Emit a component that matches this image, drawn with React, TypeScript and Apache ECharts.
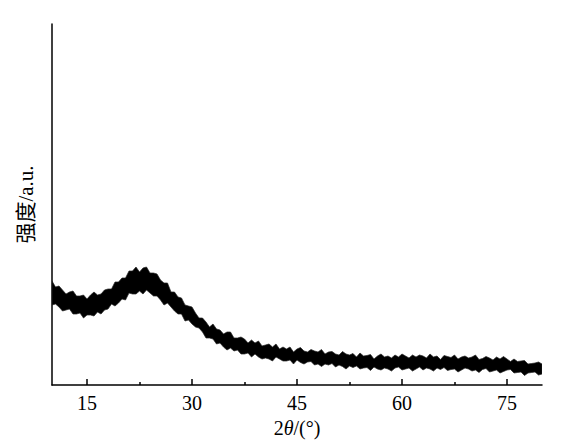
import React, { useEffect, useRef } from "react";
import * as echarts from "echarts";

// Sampling grid of the diffraction angle (2θ, degrees)
const ANGLE_START = 10;
const ANGLE_STEP = 0.5;

// Upper edge of the noisy intensity band (a.u.)
const upperEdge = [
  104, 98, 99, 95, 91, 93, 94, 89, 89, 90,
  86, 90, 93, 90, 91, 95, 96, 96, 103, 103,
  107, 107, 114, 114, 118, 113, 117, 118, 112, 112,
  111, 105, 102, 102, 93, 93, 88, 87, 80, 79,
  78, 72, 67, 67, 63, 58, 61, 56, 55, 51,
  53, 53, 47, 47, 48, 46, 42, 45, 42, 44,
  39, 40, 41, 38, 41, 36, 38, 36, 38, 33,
  36, 37.5, 34, 33, 35.5, 34, 33, 35.5, 31, 33,
  33.5, 31, 30, 33.5, 31, 30, 31.5, 28, 32, 29,
  29.5, 30.5, 26, 29, 31, 28, 29, 27, 30, 28,
  31, 29, 27, 30, 28, 30, 29, 27, 31, 28,
  29, 25.5, 29.5, 28.5, 27.5, 30, 26, 28, 29, 27,
  28, 30, 25.5, 26.5, 28.5, 27, 25, 28, 26, 28.5,
  26, 23.5, 26, 23.5, 24, 24.5, 21, 21.5, 22, 23,
  21,
];

// Lower edge of the noisy intensity band (a.u.)
const lowerEdge = [
  80, 81, 78, 74, 75, 76, 71, 71, 72, 67,
  70, 70, 69, 73, 71, 75, 76, 81, 79, 82,
  86, 85, 92, 91, 91, 94, 91, 95, 92, 89,
  89, 85, 80, 82, 78, 74, 71, 71, 64, 65,
  61, 58, 57, 53, 47, 47, 46, 41, 42, 38,
  35, 37, 34, 35, 31, 31, 32, 28, 31, 28,
  26, 27, 26, 24, 28, 26, 24, 24, 25, 21,
  25, 22.5, 21, 23, 23.5, 20, 21, 18.5, 21, 20,
  21.5, 18, 20, 18.5, 16, 19, 17.5, 19, 16, 17,
  17.5, 14.5, 18, 16, 15, 17, 16, 14, 17, 18,
  15, 16, 17, 14, 16, 18, 15, 17, 16, 14,
  17, 15.5, 17.5, 14.5, 15.5, 16, 13, 15, 17, 16,
  14, 15, 12.5, 15.5, 16.5, 13, 14, 15, 12, 13.5,
  15, 15.5, 12, 12.5, 13, 9.5, 12, 12.5, 13, 10,
  11,
];

// Axis setup
const X_MIN = 10;
const X_MAX = 80;
const majorTicks = [15, 30, 45, 60, 75];
const minorTicks = [22.5, 37.5, 52.5, 67.5];
const Y_MAX = 361;

const FONT = "'Liberation Serif', 'Times New Roman', 'Noto Sans CJK SC', serif";

export default function App() {
  const ref = useRef<HTMLDivElement>(null);

  useEffect(() => {
    if (!ref.current) return;
    const chart = echarts.init(ref.current, undefined, { renderer: "svg" });

    const angles = upperEdge.map((_, i) => ANGLE_START + i * ANGLE_STEP);
    const rows = angles.map((a, i) => [a, lowerEdge[i], upperEdge[i]]);

    chart.setOption({
      animation: false,
      backgroundColor: "#ffffff",
      grid: { left: 52, right: 24, top: 24, bottom: 62, containLabel: false },
      xAxis: [
        {
          type: "value",
          position: "bottom",
          min: X_MIN,
          max: X_MAX,
          name: "2{i|θ}/(°)",
          nameLocation: "middle",
          nameGap: 30,
          nameTextStyle: {
            fontFamily: FONT,
            fontSize: 20,
            color: "#000",
            rich: {
              i: { fontFamily: FONT, fontSize: 20, fontStyle: "italic", color: "#000" },
            },
          },
          axisLine: { show: true, onZero: false, lineStyle: { color: "#000", width: 1.5 } },
          axisTick: {
            show: true,
            inside: true,
            length: 6,
            customValues: majorTicks,
            lineStyle: { color: "#000", width: 1.5 },
          },
          axisLabel: {
            show: true,
            customValues: majorTicks,
            margin: 8,
            fontFamily: FONT,
            fontSize: 20,
            color: "#000",
          },
          splitLine: { show: false },
        },
        {
          type: "value",
          position: "bottom",
          min: X_MIN,
          max: X_MAX,
          axisLine: { show: false },
          axisTick: {
            show: true,
            inside: true,
            length: 3,
            customValues: minorTicks,
            lineStyle: { color: "#000", width: 1.5 },
          },
          axisLabel: { show: false },
          splitLine: { show: false },
        },
      ],
      yAxis: {
        type: "value",
        min: 0,
        max: Y_MAX,
        name: "强度/a.u.",
        nameLocation: "middle",
        nameGap: 16,
        nameTextStyle: { fontFamily: FONT, fontSize: 21, color: "#000" },
        axisLine: { show: true, onZero: false, lineStyle: { color: "#000", width: 1.5 } },
        axisTick: { show: false },
        axisLabel: { show: false },
        splitLine: { show: false },
      },
      series: [
        {
          type: "custom",
          name: "intensity",
          xAxisIndex: 0,
          yAxisIndex: 0,
          silent: true,
          clip: true,
          encode: { x: 0, y: [1, 2] },
          data: rows,
          renderItem: (params: any, api: any) => {
            if (params.dataIndex !== 0) return null;
            const upperPts = rows.map((r) => api.coord([r[0], r[2]]));
            const lowerPts = rows.map((r) => api.coord([r[0], r[1]]));
            const polygon = upperPts.concat(lowerPts.slice().reverse());
            return {
              type: "polygon",
              shape: { points: polygon },
              style: { fill: "#000", stroke: "#222", lineWidth: 0.7 },
            };
          },
        },
      ],
    });

    return () => chart.dispose();
  }, []);

  return (
    <div
      ref={ref}
      style={{ position: "fixed", left: 0, top: 0, width: 566, height: 447 }}
    />
  );
}
